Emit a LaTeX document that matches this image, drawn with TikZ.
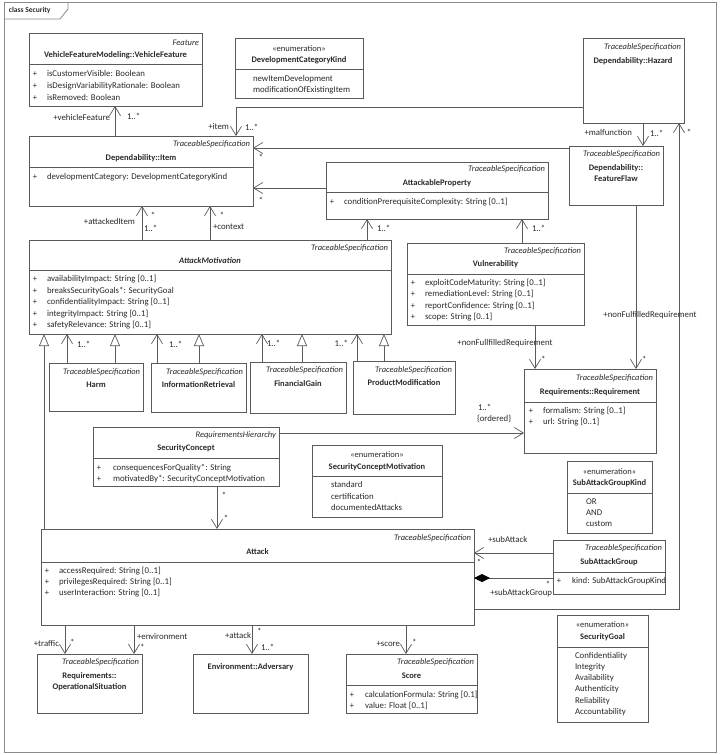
\documentclass[tikz,border=0pt]{standalone}
\usepackage{fontspec}
\setmainfont{Carlito}
\usetikzlibrary{arrows.meta}
\definecolor{ln}{HTML}{5A5A5A}
\definecolor{tx}{HTML}{2A2A2A}
\definecolor{fr}{HTML}{8A8A8A}
\newcommand\ufs{\fontsize{8.5}{10.5}\selectfont}
\newcommand\ufa{\fontsize{8.8}{10.5}\selectfont}
\tikzset{
 cls/.style={draw=ln, fill=white, line width=0.7pt, inner sep=0pt, outer sep=0pt, anchor=north west},
 txt/.style={inner sep=0pt, outer sep=0pt, text=tx, font=\ufs, text height=6pt, text depth=2pt},
 st/.style={txt, font=\ufs\itshape, anchor=east},
 nm/.style={txt, font=\ufs\bfseries},
 nmtwo/.style={inner sep=0pt, outer sep=0pt, text=tx, align=center, font=\fontsize{8.5}{10.5}\selectfont\bfseries},
 attr/.style={txt, font=\ufa, anchor=west},
 pl/.style={txt},
 lb/.style={txt, font=\ufa},
 dv/.style={draw=ln, line width=0.7pt},
 assoc/.style={draw=ln, line width=0.7pt, -{Straight Barb[length=9pt,width=11pt]}},
 gen/.style={draw=ln, line width=0.7pt, -{Triangle[open,length=12pt,width=10pt,fill=white]}},
 comp/.style={draw=ln, line width=0.7pt, -{Diamond[length=16pt,width=8pt,color=black]}},
}
\begin{document}
\begin{tikzpicture}[x=1pt,y=-1pt]
\useasboundingbox (0,0) rectangle (720,755);
\fill[white] (0,0) rectangle (720,755);
% frame
\draw[fr, line width=1pt] (4,2) rectangle (716,752);
\draw[fr, line width=0.8pt] (4,19) -- (60,19) -- (68,9) -- (68,2);
\node[txt, font=\fontsize{7.5}{9}\selectfont\bfseries, anchor=west] (title) at (9,10) {class Security};

% VehicleFeature
\node[cls, minimum width=173pt, minimum height=73pt] (vf) at (29,33) {};
\node[st] (vf-s) at (199,43) {Feature};
\node[nm] (vf-n) at (115.5,55) {VehicleFeatureModeling::VehicleFeature};
\draw[dv] (vf.west |- 0,64) -- (vf.east |- 0,64);
\foreach \y/\t in {74/isCustomerVisible: Boolean, 86/isDesignVariabilityRationale: Boolean, 98/isRemoved: Boolean}{
 \node[pl] (vf-p\y) at (35,\y) {+};
 \node[attr] (vf-a\y) at (47,\y) {\t};
}

% DevelopmentCategoryKind
\node[cls, minimum width=128pt, minimum height=60pt] (dck) at (235,38) {};
\node[txt] (dck-s) at (299,49) {«enumeration»};
\node[nm] (dck-n) at (299,60) {DevelopmentCategoryKind};
\draw[dv] (dck.west |- 0,69) -- (dck.east |- 0,69);
\node[attr] (dck-a1) at (253,79) {newItemDevelopment};
\node[attr] (dck-a2) at (253,90) {modificationOfExistingItem};

% Hazard
\node[cls, minimum width=101pt, minimum height=85pt] (hz) at (583,38) {};
\node[st] (hz-s) at (681,47) {TraceableSpecification};
\node[nm] (hz-n) at (633,61) {Dependability::Hazard};

% Item
\node[cls, minimum width=224pt, minimum height=70pt] (item) at (29,136) {};
\node[st] (item-s) at (250,144) {TraceableSpecification};
\node[nm] (item-n) at (141,158) {Dependability::Item};
\draw[dv] (item.west |- 0,167) -- (item.east |- 0,167);
\node[pl] (item-p) at (35,177) {+};
\node[attr] (item-a) at (47,177) {developmentCategory: DevelopmentCategoryKind};

% AttackableProperty
\node[cls, minimum width=222pt, minimum height=57pt] (ap) at (326,162) {};
\node[st] (ap-s) at (545,169) {TraceableSpecification};
\node[nm] (ap-n) at (437,183) {AttackableProperty};
\draw[dv] (ap.west |- 0,192) -- (ap.east |- 0,192);
\node[pl] (ap-p) at (332,202) {+};
\node[attr] (ap-a) at (344,202) {conditionPrerequisiteComplexity: String [0..1]};

% FeatureFlaw
\node[cls, minimum width=94pt, minimum height=59pt] (ff) at (569,146) {};
\node[st] (ff-s) at (660,154) {TraceableSpecification};
\node[nmtwo] (ff-n) at (616,173) {Dependability::\\FeatureFlaw};

% AttackMotivation
\node[cls, minimum width=362pt, minimum height=94pt] (am) at (29,240) {};
\node[st] (am-s) at (388,248) {TraceableSpecification};
\node[nm, font=\ufs\bfseries\itshape] (am-n) at (210,261) {AttackMotivation};
\draw[dv] (am.west |- 0,270) -- (am.east |- 0,270);
\foreach \y/\t in {279/availabilityImpact: String [0..1], 291/breaksSecurityGoals*: SecurityGoal, 302/confidentialityImpact: String [0..1], 314/integrityImpact: String [0..1], 325/safetyRelevance: String [0..1]}{
 \node[pl] (am-p\y) at (35,\y) {+};
 \node[attr] (am-a\y) at (47,\y) {\t};
}

% Vulnerability
\node[cls, minimum width=177pt, minimum height=82pt] (vul) at (407,243) {};
\node[st] (vul-s) at (581,251) {TraceableSpecification};
\node[nm] (vul-n) at (495.5,264) {Vulnerability};
\draw[dv] (vul.west |- 0,274) -- (vul.east |- 0,274);
\foreach \y/\t in {283/exploitCodeMaturity: String [0..1], 294/remediationLevel: String [0..1], 306/reportConfidence: String [0..1], 317/scope: String [0..1]}{
 \node[pl] (vul-p\y) at (413,\y) {+};
 \node[attr] (vul-a\y) at (425,\y) {\t};
}

% motivations
\node[cls, minimum width=94pt, minimum height=48pt] (harm) at (49,363) {};
\node[st] (harm-s) at (140,372) {TraceableSpecification};
\node[nm] (harm-n) at (96,385) {Harm};
\node[cls, minimum width=95pt, minimum height=49pt] (ir) at (151,363) {};
\node[st] (ir-s) at (243,372) {TraceableSpecification};
\node[nm] (ir-n) at (198.5,385) {InformationRetrieval};
\node[cls, minimum width=96pt, minimum height=51pt] (fg) at (250,362) {};
\node[st] (fg-s) at (343,370) {TraceableSpecification};
\node[nm] (fg-n) at (298,384) {FinancialGain};
\node[cls, minimum width=102pt, minimum height=53pt] (pm) at (353,361) {};
\node[st] (pm-s) at (452,370) {TraceableSpecification};
\node[nm] (pm-n) at (404,383) {ProductModification};

% Requirement
\node[cls, minimum width=132pt, minimum height=84pt] (req) at (524,369) {};
\node[st] (req-s) at (653,378) {TraceableSpecification};
\node[nm] (req-n) at (590,392) {Requirements::Requirement};
\draw[dv] (req.west |- 0,402) -- (req.east |- 0,402);
\foreach \y/\t in {411/formalism: String [0..1], 422/url: String [0..1]}{
 \node[pl] (req-p\y) at (531,\y) {+};
 \node[attr] (req-a\y) at (543,\y) {\t};
}

% SecurityConcept
\node[cls, minimum width=186pt, minimum height=59pt] (sc) at (93,427) {};
\node[st] (sc-s) at (276,435) {RequirementsHierarchy};
\node[nm] (sc-n) at (186,448) {SecurityConcept};
\draw[dv] (sc.west |- 0,458) -- (sc.east |- 0,458);
\foreach \y/\t in {468/consequencesForQuality*: String, 479/motivatedBy*: SecurityConceptMotivation}{
 \node[pl] (sc-p\y) at (99,\y) {+};
 \node[attr] (sc-a\y) at (113,\y) {\t};
}

% SecurityConceptMotivation
\node[cls, minimum width=130pt, minimum height=72pt] (scm) at (312,445) {};
\node[txt] (scm-s) at (377,455) {«enumeration»};
\node[nm] (scm-n) at (377,467) {SecurityConceptMotivation};
\draw[dv] (scm.west |- 0,476) -- (scm.east |- 0,476);
\foreach \y/\t in {485/standard, 497/certification, 508/documentedAttacks}{
 \node[attr] (scm-a\y) at (331,\y) {\t};
}

% SubAttackGroupKind
\node[cls, minimum width=85pt, minimum height=72pt] (sagk) at (567,461) {};
\node[txt] (sagk-s) at (609.5,472) {«enumeration»};
\node[nm] (sagk-n) at (609.5,483) {SubAttackGroupKind};
\draw[dv] (sagk.west |- 0,493) -- (sagk.east |- 0,493);
\foreach \y/\t in {502/OR, 513/AND, 524/custom}{
 \node[attr] (sagk-a\y) at (586,\y) {\t};
}

% Attack
\node[cls, minimum width=433pt, minimum height=96pt] (att) at (41,529) {};
\node[st] (att-s) at (471,538) {TraceableSpecification};
\node[nm] (att-n) at (257.5,552) {Attack};
\draw[dv] (att.west |- 0,562) -- (att.east |- 0,562);
\foreach \y/\t in {571/accessRequired: String [0..1], 582/privilegesRequired: String [0..1], 593/userInteraction: String [0..1]}{
 \node[pl] (att-p\y) at (47,\y) {+};
 \node[attr] (att-a\y) at (59,\y) {\t};
}

% SubAttackGroup
\node[cls, minimum width=112pt, minimum height=54pt] (sag) at (553,540) {};
\node[st] (sag-s) at (662,548) {TraceableSpecification};
\node[nm] (sag-n) at (609,562) {SubAttackGroup};
\draw[dv] (sag.west |- 0,572) -- (sag.east |- 0,572);
\node[pl] (sag-p) at (559,581) {+};
\node[attr] (sag-a) at (572,581) {kind: SubAttackGroupKind};

% OperationalSituation
\node[cls, minimum width=105pt, minimum height=59pt] (os) at (37,654) {};
\node[st] (os-s) at (139,662) {TraceableSpecification};
\node[nmtwo] (os-n) at (89.5,681.5) {Requirements::\\OperationalSituation};

% Adversary
\node[cls, minimum width=115pt, minimum height=59pt] (adv) at (193,654) {};
\node[nm] (adv-n) at (250.5,667) {Environment::Adversary};

% Score
\node[cls, minimum width=131pt, minimum height=59pt] (score) at (346,654) {};
\node[st] (score-s) at (474,662) {TraceableSpecification};
\node[nm] (score-n) at (411.5,676) {Score};
\draw[dv] (score.west |- 0,685) -- (score.east |- 0,685);
\foreach \y/\t in {695/calculationFormula: String [0.1], 706/value: Float [0..1]}{
 \node[pl] (score-p\y) at (352,\y) {+};
 \node[attr] (score-a\y) at (365,\y) {\t};
}

% SecurityGoal
\node[cls, minimum width=91pt, minimum height=107pt] (sg) at (557,615) {};
\node[txt] (sg-s) at (602.5,625) {«enumeration»};
\node[nm] (sg-n) at (602.5,637) {SecurityGoal};
\draw[dv] (sg.west |- 0,647) -- (sg.east |- 0,647);
\foreach \y/\t in {656/Confidentiality, 667.3/Integrity, 678.6/Availability, 689.9/Authenticity, 701.2/Reliability, 712.5/Accountability}{
 \node[attr] (sg-a\y) at (575,\y) {\t};
}

% ---------- connectors ----------
\draw[assoc] (115,0 |- item.north) -- (115,0 |- vf.south);
\draw[assoc] (hz.west |- 0,107) -| (236,0 |- item.north);
\draw[assoc] (ff.west |- 0,148) -- (item.east |- 0,148);
\draw[assoc] (ap.west |- 0,188) -- (item.east |- 0,188);
\draw[assoc] (643,0 |- hz.south) -- (643,0 |- ff.north);
\draw[assoc] (att.east |- 0,609) -| (679,0 |- hz.south);
\draw[assoc] (142,0 |- am.north) -- (142,0 |- item.south);
\draw[assoc] (210,0 |- am.north) -- (210,0 |- item.south);
\draw[assoc] (367,0 |- am.north) -- (367,0 |- ap.south);
\draw[assoc] (522,0 |- vul.north) -- (522,0 |- ap.south);
\draw[gen] (44,0 |- att.north) -- (44,0 |- am.south);
\draw[gen] (115,0 |- harm.north) -- (115,0 |- am.south);
\draw[gen] (199,0 |- ir.north) -- (199,0 |- am.south);
\draw[gen] (302,0 |- fg.north) -- (302,0 |- am.south);
\draw[gen] (384,0 |- pm.north) -- (384,0 |- am.south);
\draw[assoc] (67,0 |- harm.north) -- (67,0 |- am.south);
\draw[assoc] (157,0 |- ir.north) -- (157,0 |- am.south);
\draw[assoc] (262,0 |- fg.north) -- (262,0 |- am.south);
\draw[assoc] (357,0 |- pm.north) -- (357,0 |- am.south);
\draw[assoc] (535,0 |- vul.south) -- (535,0 |- req.north);
\draw[assoc] (636,0 |- ff.south) -- (636,0 |- req.north);
\draw[assoc] (sc.east |- 0,433) -- (req.west |- 0,433);
\draw[assoc] (217,0 |- sc.south) -- (217,0 |- att.north);
\draw[assoc] (sag.west |- 0,553) -- (att.east |- 0,553);
\draw[comp] (sag.west |- 0,578) -- (att.east |- 0,578);
\draw[assoc] (65,0 |- att.south) -- (65,0 |- os.north);
\draw[assoc] (134,0 |- att.south) -- (134,0 |- os.north);
\draw[assoc] (252,0 |- att.south) -- (252,0 |- adv.north);
\draw[assoc] (406,0 |- att.south) -- (406,0 |- score.north);

% ---------- labels ----------
\node[lb, anchor=east] (l-vf1) at (110,118) {+vehicleFeature};
\node[lb, anchor=west] (l-vf2) at (127,117) {1..*};
\node[lb, anchor=east] (l-it1) at (229,127) {+item};
\node[lb, anchor=west] (l-it2) at (245,128) {1..*};
\node[lb] (l-ff1) at (261,158) {*};
\node[lb] (l-ap1) at (261,201) {*};
\node[lb, anchor=east] (l-mf1) at (632,133) {+malfunction};
\node[lb, anchor=west] (l-mf2) at (650,134) {1..*};
\node[lb] (l-hz1) at (689,133) {*};
\node[lb, anchor=east] (l-ai1) at (135,222) {+attackedItem};
\node[lb] (l-ai2) at (153,216) {*};
\node[lb, anchor=west] (l-ai3) at (144,229) {1..*};
\node[lb] (l-cx1) at (222,216) {*};
\node[lb, anchor=west] (l-cx2) at (213,227) {+context};
\node[lb, anchor=west] (l-am1) at (377,229) {1..*};
\node[lb, anchor=west] (l-vu1) at (532,229) {1..*};
\node[lb, anchor=west] (l-h1) at (77,345) {1..*};
\node[lb, anchor=west] (l-i1) at (169,345) {1..*};
\node[lb, anchor=west] (l-f1) at (267,344) {1..*};
\node[lb, anchor=east] (l-p1) at (348,344) {1..*};
\node[lb] (l-nf1) at (505,343) {+nonFullfilledRequirement};
\node[lb, anchor=west] (l-nf2) at (541,360) {*};
\node[lb] (l-nf3) at (650,315) {+nonFulfilledRequirement};
\node[lb, anchor=west] (l-nf4) at (642,360) {*};
\node[lb, anchor=west] (l-or1) at (478,408) {1..*};
\node[lb, anchor=west] (l-or2) at (477,419) {\{ordered\}};
\node[lb] (l-sc1) at (224,496) {*};
\node[lb] (l-sc2) at (226,519) {*};
\node[lb, anchor=west] (l-sa1) at (488,540) {+subAttack};
\node[lb] (l-sa2) at (479,563) {*};
\node[lb] (l-sg1) at (548,585) {*};
\node[lb, anchor=east] (l-sg2) at (552,593) {+subAttackGroup};
\node[lb, anchor=east] (l-tr1) at (59,644) {+traffic};
\node[lb, anchor=west] (l-tr2) at (70,643) {*};
\node[lb, anchor=west] (l-en1) at (137,637) {+environment};
\node[lb, anchor=west] (l-en2) at (140,648) {*};
\node[lb, anchor=east] (l-ad1) at (251,636) {+attack};
\node[lb, anchor=west] (l-ad2) at (257,632) {*};
\node[lb, anchor=west] (l-ad3) at (261,648) {1..*};
\node[lb, anchor=east] (l-sc3) at (400,644) {+score};
\node[lb, anchor=west] (l-sc4) at (412,643) {*};
\end{tikzpicture}
\end{document}
